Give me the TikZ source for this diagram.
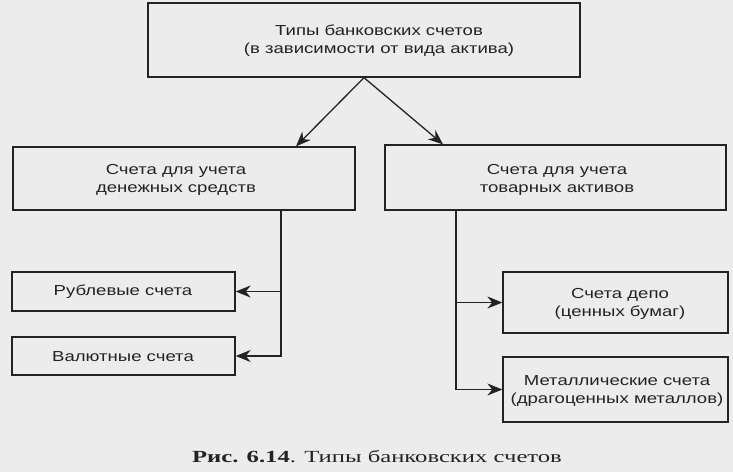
\documentclass[tikz,border=0pt]{standalone}
\usepackage{fontspec}
\setmainfont{Liberation Sans}
\newfontfamily\boxfont[FakeStretch=1.28]{Liberation Sans}
\newfontfamily\capfont[FakeStretch=1.45]{Liberation Serif}
\usetikzlibrary{arrows.meta}
\definecolor{bg}{RGB}{236,236,236}
\definecolor{ink}{RGB}{35,35,35}
\tikzset{
  x=1pt, y=-1pt,
  boxnode/.style={draw=ink, line width=1.3pt, inner sep=0pt, fill=none},
  txt/.style={text=ink, font=\boxfont\fontsize{14.5}{18}\selectfont, align=center, inner sep=0pt},
  arr/.style={draw=ink, line width=1.3pt, -{Stealth[length=15pt,width=12pt]}}
}
\begin{document}
\begin{tikzpicture}
\fill[bg] (0,0) rectangle (733,472);
\useasboundingbox (0,0) rectangle (733,472);
% boxes
\node[boxnode, minimum width=432pt, minimum height=74pt] (top) at (364,40) {};
\node[txt] (toptxt) at (379,41) {Типы банковских счетов\\(в зависимости от вида актива)};
\node[boxnode, minimum width=342pt, minimum height=63pt] (lb) at (184,178.5) {};
\node[txt] (lbtxt) at (176,180) {Счета для учета\\денежных средств};
\node[boxnode, minimum width=341pt, minimum height=65pt] (rb) at (555.5,177.5) {};
\node[txt] (rbtxt) at (557,180) {Счета для учета\\товарных активов};
\node[boxnode, minimum width=223pt, minimum height=39pt] (rub) at (123.5,291.5) {};
\node[txt] (rubtxt) at (123,292) {Рублевые счета};
\node[boxnode, minimum width=223pt, minimum height=38pt] (val) at (123.5,356) {};
\node[txt] (valtxt) at (123,357) {Валютные счета};
\node[boxnode, minimum width=225pt, minimum height=61pt] (dep) at (615.5,302.5) {};
\node[txt] (deptxt) at (620,304) {Счета депо\\(ценных бумаг)};
\node[boxnode, minimum width=225pt, minimum height=65pt] (met) at (615.5,389.5) {};
\node[txt] (mettxt) at (617,391) {Металлические счета\\(драгоценных металлов)};
% connectors
\draw[arr] (top.south) -- ([xshift=112pt]lb.north);
\draw[arr] (top.south) -- ([xshift=-112.5pt]rb.north);
\coordinate (trunkL) at (281,210);
\coordinate (trunkR) at (456,210);
\draw[arr] (trunkL) |- (rub.east);
\draw[arr] (trunkL) |- (val.east);
\draw[arr] (trunkR) |- (dep.west);
\draw[arr] (trunkR) |- (met.west);
% caption
\node[text=ink, inner sep=0pt, font=\capfont\fontsize{17}{20}\selectfont] (cap) at (377,457) {\textbf{Рис. 6.14}. Типы банковских счетов};
\end{tikzpicture}
\end{document}
